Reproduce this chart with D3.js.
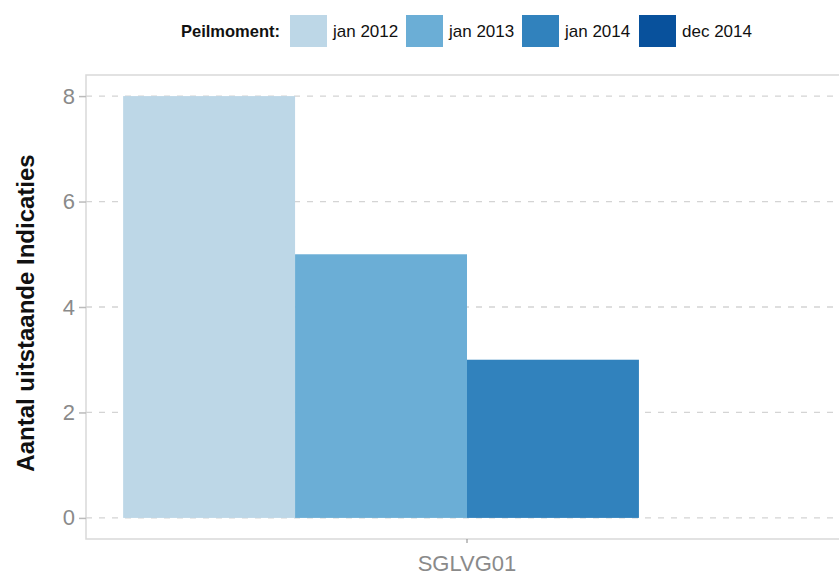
<!DOCTYPE html>
<html><head><meta charset="utf-8">
<script src="https://cdn.jsdelivr.net/npm/d3@7/dist/d3.min.js"></script>
<style>body{margin:0;background:#fff;} svg{display:block;font-family:"Liberation Sans",Arial,sans-serif;}</style>
</head><body><svg id="c" width="839" height="575"></svg>
<script>
const categories = ["SGLVG01"];
const series = ["jan 2012", "jan 2013", "jan 2014", "dec 2014"];
const values = [8, 5, 3, 0];
const colors = ["#bdd7e7", "#6baed6", "#3182bd", "#08519c"];
const yTicks = [0, 2, 4, 6, 8];
const legendTitle = "Peilmoment:";
const yTitle = "Aantal uitstaande Indicaties";

(function () {
const svg = d3.select("#c");
const pL = 86, pR = 848, pT = 75, pB = 539;

const x = d3.scaleBand().domain(categories).range([pL, pR]).paddingInner(0).paddingOuter(0.054);
const xs = d3.scaleBand().domain(series).range([0, x.bandwidth()]);
const y = d3.scaleLinear().domain([-0.4, 8.4]).range([pB, pT]);

// panel border
svg.append("rect").attr("x", pL).attr("y", pT).attr("width", pR - pL).attr("height", pB - pT)
  .attr("fill", "none").attr("stroke", "#d9d9d9").attr("stroke-width", 1.5);

// gridlines
svg.append("g").selectAll("line").data(yTicks).join("line")
  .attr("x1", pL).attr("x2", pR)
  .attr("y1", d => y(d)).attr("y2", d => y(d))
  .attr("stroke", "#d4d4d4").attr("stroke-width", 1.3).attr("stroke-dasharray", "6,7");

// bars
const data = series.map((s, i) => ({cat: categories[0], s, v: values[i], c: colors[i]}));
svg.append("g").selectAll("rect").data(data).join("rect")
  .attr("x", d => x(d.cat) + xs(d.s))
  .attr("width", xs.bandwidth())
  .attr("y", d => y(d.v))
  .attr("height", d => y(0) - y(d.v))
  .attr("fill", d => d.c);

// y axis
const yAxis = d3.axisLeft(y).tickValues(yTicks).tickSize(7).tickPadding(4);
const ga = svg.append("g").attr("transform", `translate(${pL},0)`).call(yAxis);
ga.select(".domain").remove();
ga.selectAll(".tick line").attr("stroke", "#bbbbbb").attr("stroke-width", 1.5);
ga.selectAll(".tick text").attr("fill", "#8a8a8a").style("font-size", "22px").attr("font-family", "'Liberation Sans',Arial,sans-serif");

// x axis
const xAxis = d3.axisBottom(x).tickSize(4).tickPadding(12);
const gx = svg.append("g").attr("transform", `translate(0,${pB})`).call(xAxis);
gx.select(".domain").remove();
gx.selectAll(".tick line").attr("stroke", "#999").attr("stroke-width", 1.2);
gx.selectAll(".tick text").attr("fill", "#8a8a8a").style("font-size", "22px").attr("font-family", "'Liberation Sans',Arial,sans-serif");

// y title
svg.append("text").attr("transform", `translate(34,313) rotate(-90)`)
  .attr("text-anchor", "middle").style("font-size", "24px").style("font-weight", "bold").attr("fill", "#111")
  .text(yTitle);

// legend
const lg = svg.append("g");
lg.append("text").attr("x", 181).attr("y", 37).style("font-size", "16.5px").style("font-weight", "bold").attr("fill", "#111").text(legendTitle);
const keyX = [290, 406, 522, 639];
series.forEach((s, i) => {
  lg.append("rect").attr("x", keyX[i]).attr("y", 15).attr("width", 37).attr("height", 32).attr("fill", colors[i]);
  lg.append("text").attr("x", keyX[i] + 43).attr("y", 37).style("font-size", "17px").attr("fill", "#111").text(s);
});
})();
</script></body></html>
